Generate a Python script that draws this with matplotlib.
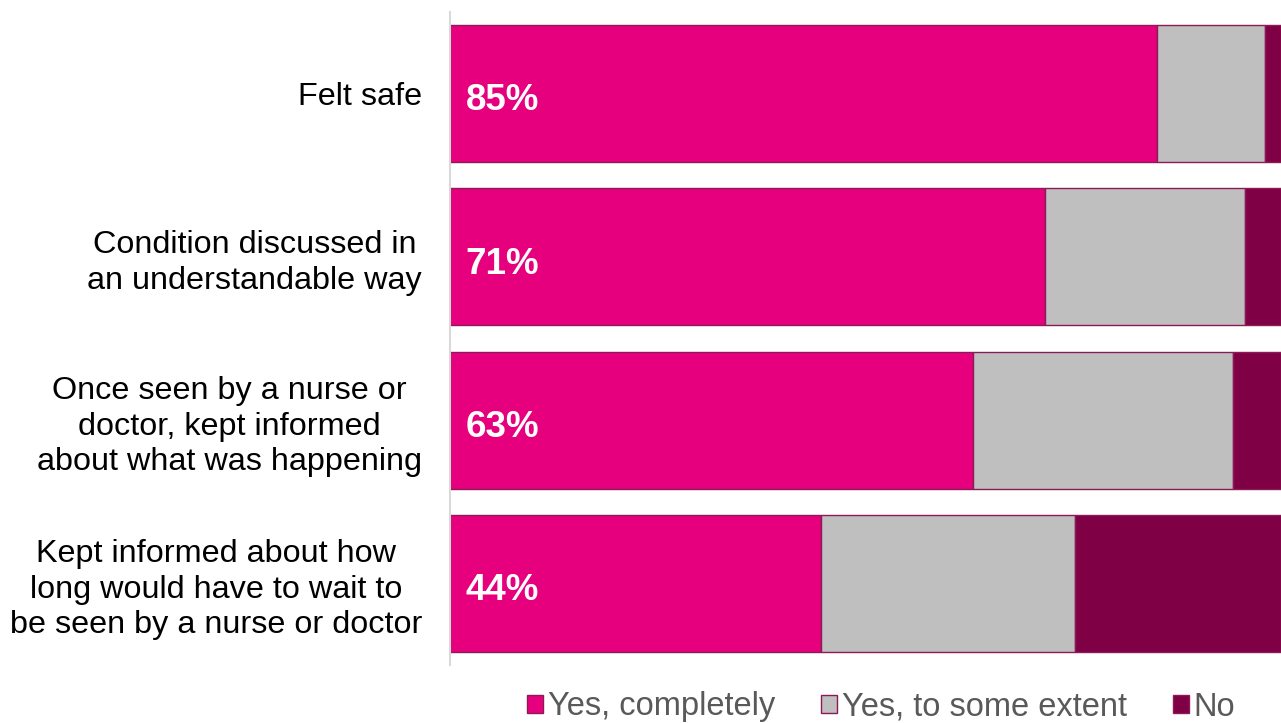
import matplotlib.pyplot as plt
from matplotlib.patches import Patch

plt.rcParams['font.family'] = ['Liberation Sans', 'DejaVu Sans']

categories = [
    'Felt safe',
    'Condition discussed in\nan understandable way',
    'Once seen by a nurse or\ndoctor, kept informed\nabout what was happening',
    'Kept informed about how\nlong would have to wait to\nbe seen by a nurse or doctor',
]
yes_completely = [85.1, 71.6, 62.9, 44.6]
yes_some = [13.0, 24.1, 31.3, 30.6]
no = [1.9, 4.3, 5.8, 24.8]
bar_labels = ['85%', '71%', '63%', '44%']
series_names = ['Yes, completely', 'Yes, to some extent', 'No']

PINK = '#E6007E'
GREY = '#BFBFBF'
MAROON = '#7F0044'
EDGE = '#8C1A58'

fig = plt.figure(figsize=(12.81, 7.23), dpi=100)
ax = fig.add_axes([450 / 1281, 1 - 665 / 723, 1 - 450 / 1281, (665 - 12) / 723])

ypos = list(range(len(categories)))
ax.barh(ypos, yes_completely, height=0.84, color=PINK, edgecolor=EDGE, linewidth=1)
ax.barh(ypos, yes_some, left=yes_completely, height=0.84, color=GREY,
        edgecolor=EDGE, linewidth=1)
lefts = [a + b for a, b in zip(yes_completely, yes_some)]
ax.barh(ypos, no, left=lefts, height=0.84, color=MAROON, edgecolor=EDGE, linewidth=1)

for y, lab in zip(ypos, bar_labels):
    ax.text(1.9, y + 0.02, lab, color='white', fontsize=26.5, fontweight='bold',
            ha='left', va='center_baseline')

ax.set_xlim(0, 100)
ax.set_ylim(len(categories) - 0.5, -0.5)
ax.set_yticks(ypos)
ax.set_yticklabels(categories, fontsize=23.3, multialignment='center', linespacing=1.25)
ax.tick_params(axis='y', length=0, pad=20)
ax.set_xticks([])
for s in ['top', 'right', 'bottom']:
    ax.spines[s].set_visible(False)
ax.spines['left'].set_color('#D9D9D9')
ax.spines['left'].set_linewidth(1.5)

handles = [Patch(facecolor=c, edgecolor=EDGE, linewidth=1) for c in [PINK, GREY, MAROON]]
leg = fig.legend(handles, series_names, loc='center', bbox_to_anchor=(881 / 1281, 1 - 707 / 723),
                 ncol=3, frameon=False, fontsize=23.5, handlelength=0.5, handleheight=0.5,
                 handletextpad=0.15, columnspacing=1.4, borderaxespad=0, borderpad=0)
for t in leg.get_texts():
    t.set_color('#595959')

fig.savefig('out.png', dpi=100)
